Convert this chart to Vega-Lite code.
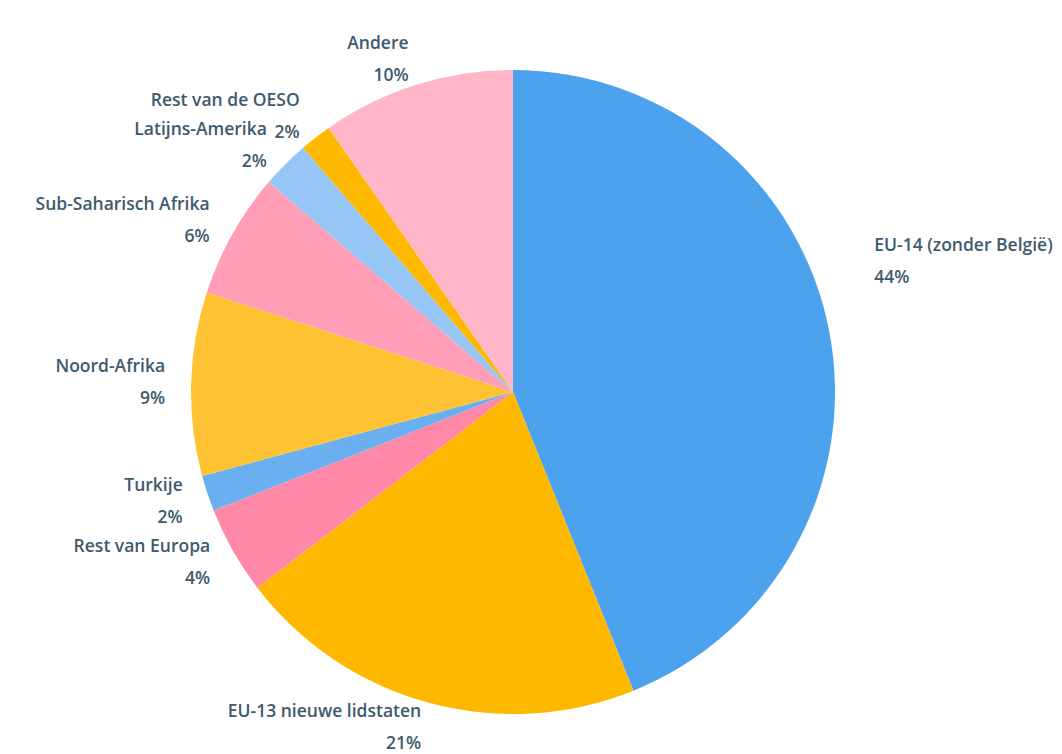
{
  "$schema": "https://vega.github.io/schema/vega-lite/v6.json",
  "width": 1026,
  "height": 784,
  "autosize": {"type": "none"},
  "padding": {"left": 0, "top": 0, "right": 36, "bottom": 0},
  "background": "white",
  "view": {"stroke": null},
  "config": {"text": {"font": "Open Sans", "fontSize": 17.5, "fontWeight": 600, "color": "#3E5A6D"}},
  "data": {
    "values": [
      {"n": 1, "cat": "EU-14 (zonder België)", "v": 0.439},
      {"n": 2, "cat": "EU-13 nieuwe lidstaten", "v": 0.207},
      {"n": 3, "cat": "Rest van Europa", "v": 0.044},
      {"n": 4, "cat": "Turkije", "v": 0.018},
      {"n": 5, "cat": "Noord-Afrika", "v": 0.092},
      {"n": 6, "cat": "Sub-Saharisch Afrika", "v": 0.063},
      {"n": 7, "cat": "Latijns-Amerika", "v": 0.024},
      {"n": 8, "cat": "Rest van de OESO", "v": 0.016},
      {"n": 9, "cat": "Andere", "v": 0.097}
    ]
  },
  "encoding": {
    "theta": {"field": "v", "type": "quantitative", "stack": true},
    "order": {"field": "n", "type": "quantitative", "sort": "ascending"},
    "color": {
      "field": "cat",
      "type": "nominal",
      "legend": null,
      "scale": {
        "domain": ["EU-14 (zonder België)", "EU-13 nieuwe lidstaten", "Rest van Europa", "Turkije", "Noord-Afrika", "Sub-Saharisch Afrika", "Latijns-Amerika", "Rest van de OESO", "Andere"],
        "range": ["#4DA2EE", "#FFB800", "#FF88A8", "#6AB0F0", "#FFC233", "#FF9EB6", "#96C6F6", "#FFB800", "#FFB6C9"]
      }
    }
  },
  "layer": [
    {"mark": {"type": "arc", "outerRadius": 322}},
    {
      "mark": {"type": "text", "radius": 348, "align": "right", "baseline": "middle", "dy": -16},
      "encoding": {
        "color": {"value": "#3E5A6D"},
        "text": {"condition": {"test": "datum.cat !== 'EU-14 (zonder België)'", "field": "cat"}, "value": ""}
      }
    },
    {
      "mark": {"type": "text", "radius": 348, "align": "right", "baseline": "middle", "dy": 16},
      "encoding": {
        "color": {"value": "#3E5A6D"},
        "text": {"condition": {"test": "datum.cat !== 'EU-14 (zonder België)'", "field": "v", "format": ".0%"}, "value": ""}
      }
    },
    {
      "mark": {"type": "text", "radius": 368, "align": "left", "baseline": "middle", "dy": -76},
      "encoding": {
        "color": {"value": "#3E5A6D"},
        "text": {"condition": {"test": "datum.cat === 'EU-14 (zonder België)'", "field": "cat"}, "value": ""}
      }
    },
    {
      "mark": {"type": "text", "radius": 368, "align": "left", "baseline": "middle", "dy": -44},
      "encoding": {
        "color": {"value": "#3E5A6D"},
        "text": {"condition": {"test": "datum.cat === 'EU-14 (zonder België)'", "field": "v", "format": ".0%"}, "value": ""}
      }
    }
  ]
}
